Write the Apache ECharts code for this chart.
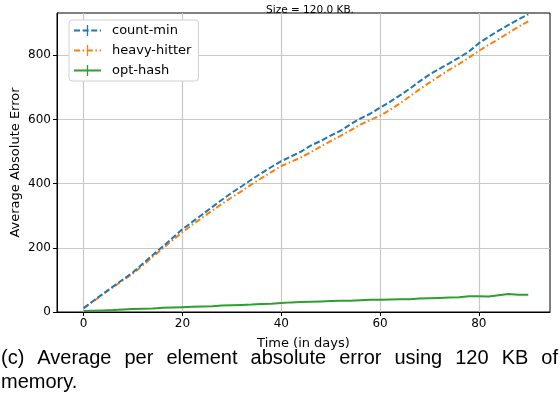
<!DOCTYPE html>
<html><head><meta charset="utf-8">
<script src="https://cdn.jsdelivr.net/npm/echarts@6/dist/echarts.min.js"></script>
<style>html,body{margin:0;padding:0;background:#fff}#c{width:560px;height:420px}</style>
</head><body><div id="c"></div>
<script>
const days = [0,2,4,6,8,10,12,14,16,18,20,22,24,26,28,30,32,34,36,38,40,42,44,46,48,50,52,54,56,58,60,62,64,66,68,70,72,74,76,78,80,82,84,86,88,90];
const countMin = [12,35,58,80,102,124,151,178,204,231,258,281,304,327,350,372,392,413,433,452,470,485,500,519,533,550,565,585,603,618,637,655,675,696,719,740,758,775,793,812,838,858,877,895,912,928];
const heavyHitter = [12,34,56,78,99,120,146,172,198,224,249,272,294,316,337,358,377,398,417,436,455,468,482,498,516,533,549,566,584,598,612,630,650,672,694,715,735,755,773,793,814,833,851,870,889,906];
const optHash = [3,4,5,6,8,9,10,11,13,14,15,16,17,18,20,21,22,23,25,26,28,30,31,32,33,34,35,35,37,38,38,39,40,40,42,43,44,45,46,49,49,48,52,56,54,54];
const xTicks = [0,20,40,60,80];
const yTicks = [0,200,400,600,800];
const seriesNames = ['count-min','heavy-hitter','opt-hash'];
const captionLines = ['(c) Average per element absolute error using 120 KB of', 'memory.'];

const font = 'DejaVu Sans';
// vertical bar with invisible corner points so its bounding box is square
const plus = 'path://M-6,-6 L-5.99,-6 Z M-0.7,-6 L0.7,-6 L0.7,6 L-0.7,6 Z M6,6 L5.99,6 Z';
function pairs(v){ return days.map((d,i)=>[d,v[i]]); }

const capFont = '20px "Liberation Sans"';
const ctx = document.createElement('canvas').getContext('2d');
ctx.font = capFont;
function captionGraphics(){
  const out = [];
  const tops = [348, 372];
  captionLines.forEach((line, li) => {
    const words = line.split(' ');
    if (li === captionLines.length - 1 || words.length < 2) {
      out.push({type:'text', x:1, y:tops[li], style:{text:line, font:capFont, fill:'#000'}});
      return;
    }
    const total = words.reduce((s,w)=>s+ctx.measureText(w).width, 0);
    const gap = (557 - total) / (words.length - 1);
    let x = 1;
    words.forEach(w => {
      out.push({type:'text', x:x, y:tops[li], style:{text:w, font:capFont, fill:'#000'}});
      x += ctx.measureText(w).width + gap;
    });
  });
  return out;
}

const chart = echarts.init(document.getElementById('c'), null, {renderer:'canvas'});
chart.setOption({
  animation:false,
  title:{text:'Size = 120.0 KB.', left:305, top:0, textAlign:'center',
    textStyle:{fontFamily:font, fontSize:10.5, fontWeight:'normal', color:'#000'}},
  grid:{left:57, right:10, top:13, bottom:108, outerBoundsMode:'none', containLabel:false,
    show:true, borderColor:'#000', borderWidth:1, backgroundColor:'transparent'},
  legend:{left:69, top:20, orient:'vertical', backgroundColor:'#fff', borderColor:'#d0d0d0', borderWidth:1, borderRadius:3,
    padding:[4,7,4,4], itemGap:7, itemWidth:27, itemHeight:14, symbolKeepAspect:true,
    textStyle:{fontFamily:font, fontSize:13, color:'#000', padding:[0,0,0,6]}, data:seriesNames},
  xAxis:{type:'value', min:-5.4, max:94.4,
    name:'Time (in days)', nameLocation:'middle', nameGap:25, nameMoveOverlap:false,
    nameTextStyle:{fontFamily:font, fontSize:13, color:'#000'},
    axisLine:{onZero:false, lineStyle:{color:'#000', width:1}},
    axisTick:{show:true, length:4, customValues:xTicks, lineStyle:{color:'#000'}},
    axisLabel:{customValues:xTicks, fontFamily:font, fontSize:12, color:'#000', margin:6},
    splitLine:{show:true, lineStyle:{color:'#c8c8c8', width:1.2}}},
  yAxis:{type:'value', min:0, max:932,
    name:'Average Absolute Error', nameLocation:'middle', nameGap:35, nameMoveOverlap:false,
    nameTextStyle:{fontFamily:font, fontSize:13, color:'#000'},
    axisLine:{show:true, onZero:false, lineStyle:{color:'#000', width:1}},
    axisTick:{show:true, length:4, customValues:yTicks, lineStyle:{color:'#000'}},
    axisLabel:{customValues:yTicks, fontFamily:font, fontSize:12, color:'#000', margin:6},
    splitLine:{show:true, lineStyle:{color:'#c8c8c8', width:1.2}}},
  series:[
    {name:seriesNames[0], type:'line', data:pairs(countMin), showSymbol:false, symbol:plus, symbolSize:12, symbolKeepAspect:true,
      color:'#1f77b4', lineStyle:{width:2, type:[6,2.6], color:'#1f77b4'}, z:3},
    {name:seriesNames[1], type:'line', data:pairs(heavyHitter), showSymbol:false, symbol:plus, symbolSize:12, symbolKeepAspect:true,
      color:'#ff7f0e', lineStyle:{width:2, type:[6,2.6,1.6,2.6], color:'#ff7f0e'}, z:2},
    {name:seriesNames[2], type:'line', data:pairs(optHash), showSymbol:false, symbol:plus, symbolSize:12, symbolKeepAspect:true,
      color:'#2ca02c', lineStyle:{width:2, color:'#2ca02c'}, z:2}
  ],
  graphic: captionGraphics()
});
</script></body></html>
